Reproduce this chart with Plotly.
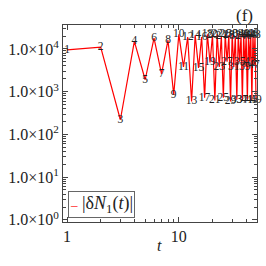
import plotly.graph_objects as go

t_vals = list(range(1, 50))
dN_vals = [
    9500, 11000, 220, 15000, 1900, 18000, 2600, 16000, 850, 22000,
    3800, 19000, 590, 21000, 3600, 19000, 720, 22000, 4800, 21000,
    620, 22000, 3800, 20000, 720, 22000, 5000, 21000, 590, 22000,
    3800, 20000, 650, 22000, 5000, 21000, 620, 22000, 3800, 20000,
    650, 22000, 5000, 21000, 620, 22000, 4200, 21000, 650,
]
point_labels = [str(t) for t in t_vals]

y_tickvals = [1, 10, 100, 1000, 10000]
y_ticktext = ["1.0×10<sup>%d</sup>" % k for k in range(5)]
x_tickvals = [1, 10]
x_ticktext = ["1", "10"]

x_minor = [2, 3, 4, 5, 6, 7, 8, 9, 20, 30, 40]
y_minor = [m * 10 ** k for k in range(0, 5) for m in range(2, 10)]

series_name = "|δ<i>N</i><sub>1</sub>(<i>t</i>)|"
font_fam = "Liberation Serif"

fig = go.Figure()
fig.add_trace(go.Scatter(
    x=t_vals, y=dN_vals, mode="lines+text",
    text=point_labels, textposition="middle center",
    textfont=dict(family=font_fam, size=11.5, color="#222"),
    line=dict(color="#ff0000", width=1.2),
    name=series_name, showlegend=False, hoverinfo="skip",
    cliponaxis=False,
))

axis_common = dict(
    showgrid=False, zeroline=False, showline=True, linecolor="#444", linewidth=1,
    mirror="allticks", ticks="inside", ticklen=5, tickcolor="#444",
    tickfont=dict(family=font_fam, size=16, color="#222"),
)

fig.update_xaxes(
    type="log", range=[-0.036, 1.699],
    tickvals=x_tickvals, ticktext=x_ticktext,
    minor=dict(tickvals=x_minor, ticks="inside", ticklen=3, tickcolor="#444", showgrid=False),
    **axis_common,
)
fig.update_yaxes(
    type="log", range=[-0.05, 4.56],
    tickvals=y_tickvals, ticktext=y_ticktext,
    minor=dict(tickvals=y_minor, ticks="inside", ticklen=3, tickcolor="#444", showgrid=False),
    **axis_common,
)

# x-axis title
fig.add_annotation(
    text="<i>t</i>", xref="paper", yref="paper", x=0.495, y=-0.117,
    xanchor="center", yanchor="middle", showarrow=False,
    font=dict(family=font_fam, size=16, color="#222"),
)
# panel tag
fig.add_annotation(
    text="(f)", xref="paper", yref="paper", x=0.934, y=1.05,
    xanchor="center", yanchor="middle", showarrow=False,
    font=dict(family=font_fam, size=17, color="#222"),
)
# legend box
fig.add_annotation(
    text='<span style="color:#ff0000;font-size:13px">–</span> ' + series_name,
    xref="paper", yref="paper", x=0.025, y=0.02,
    xanchor="left", yanchor="bottom", showarrow=False,
    bordercolor="#666", borderwidth=1, borderpad=1, bgcolor="white",
    font=dict(family=font_fam, size=18, color="#222"),
)

fig.update_layout(
    width=266, height=266,
    margin=dict(l=60, r=8, t=25, b=44),
    paper_bgcolor="white", plot_bgcolor="white",
    showlegend=False, hovermode=False,
)

fig.write_html("out.html", config={"displayModeBar": False, "staticPlot": True},
               post_script="document.body.style.margin='0';")
